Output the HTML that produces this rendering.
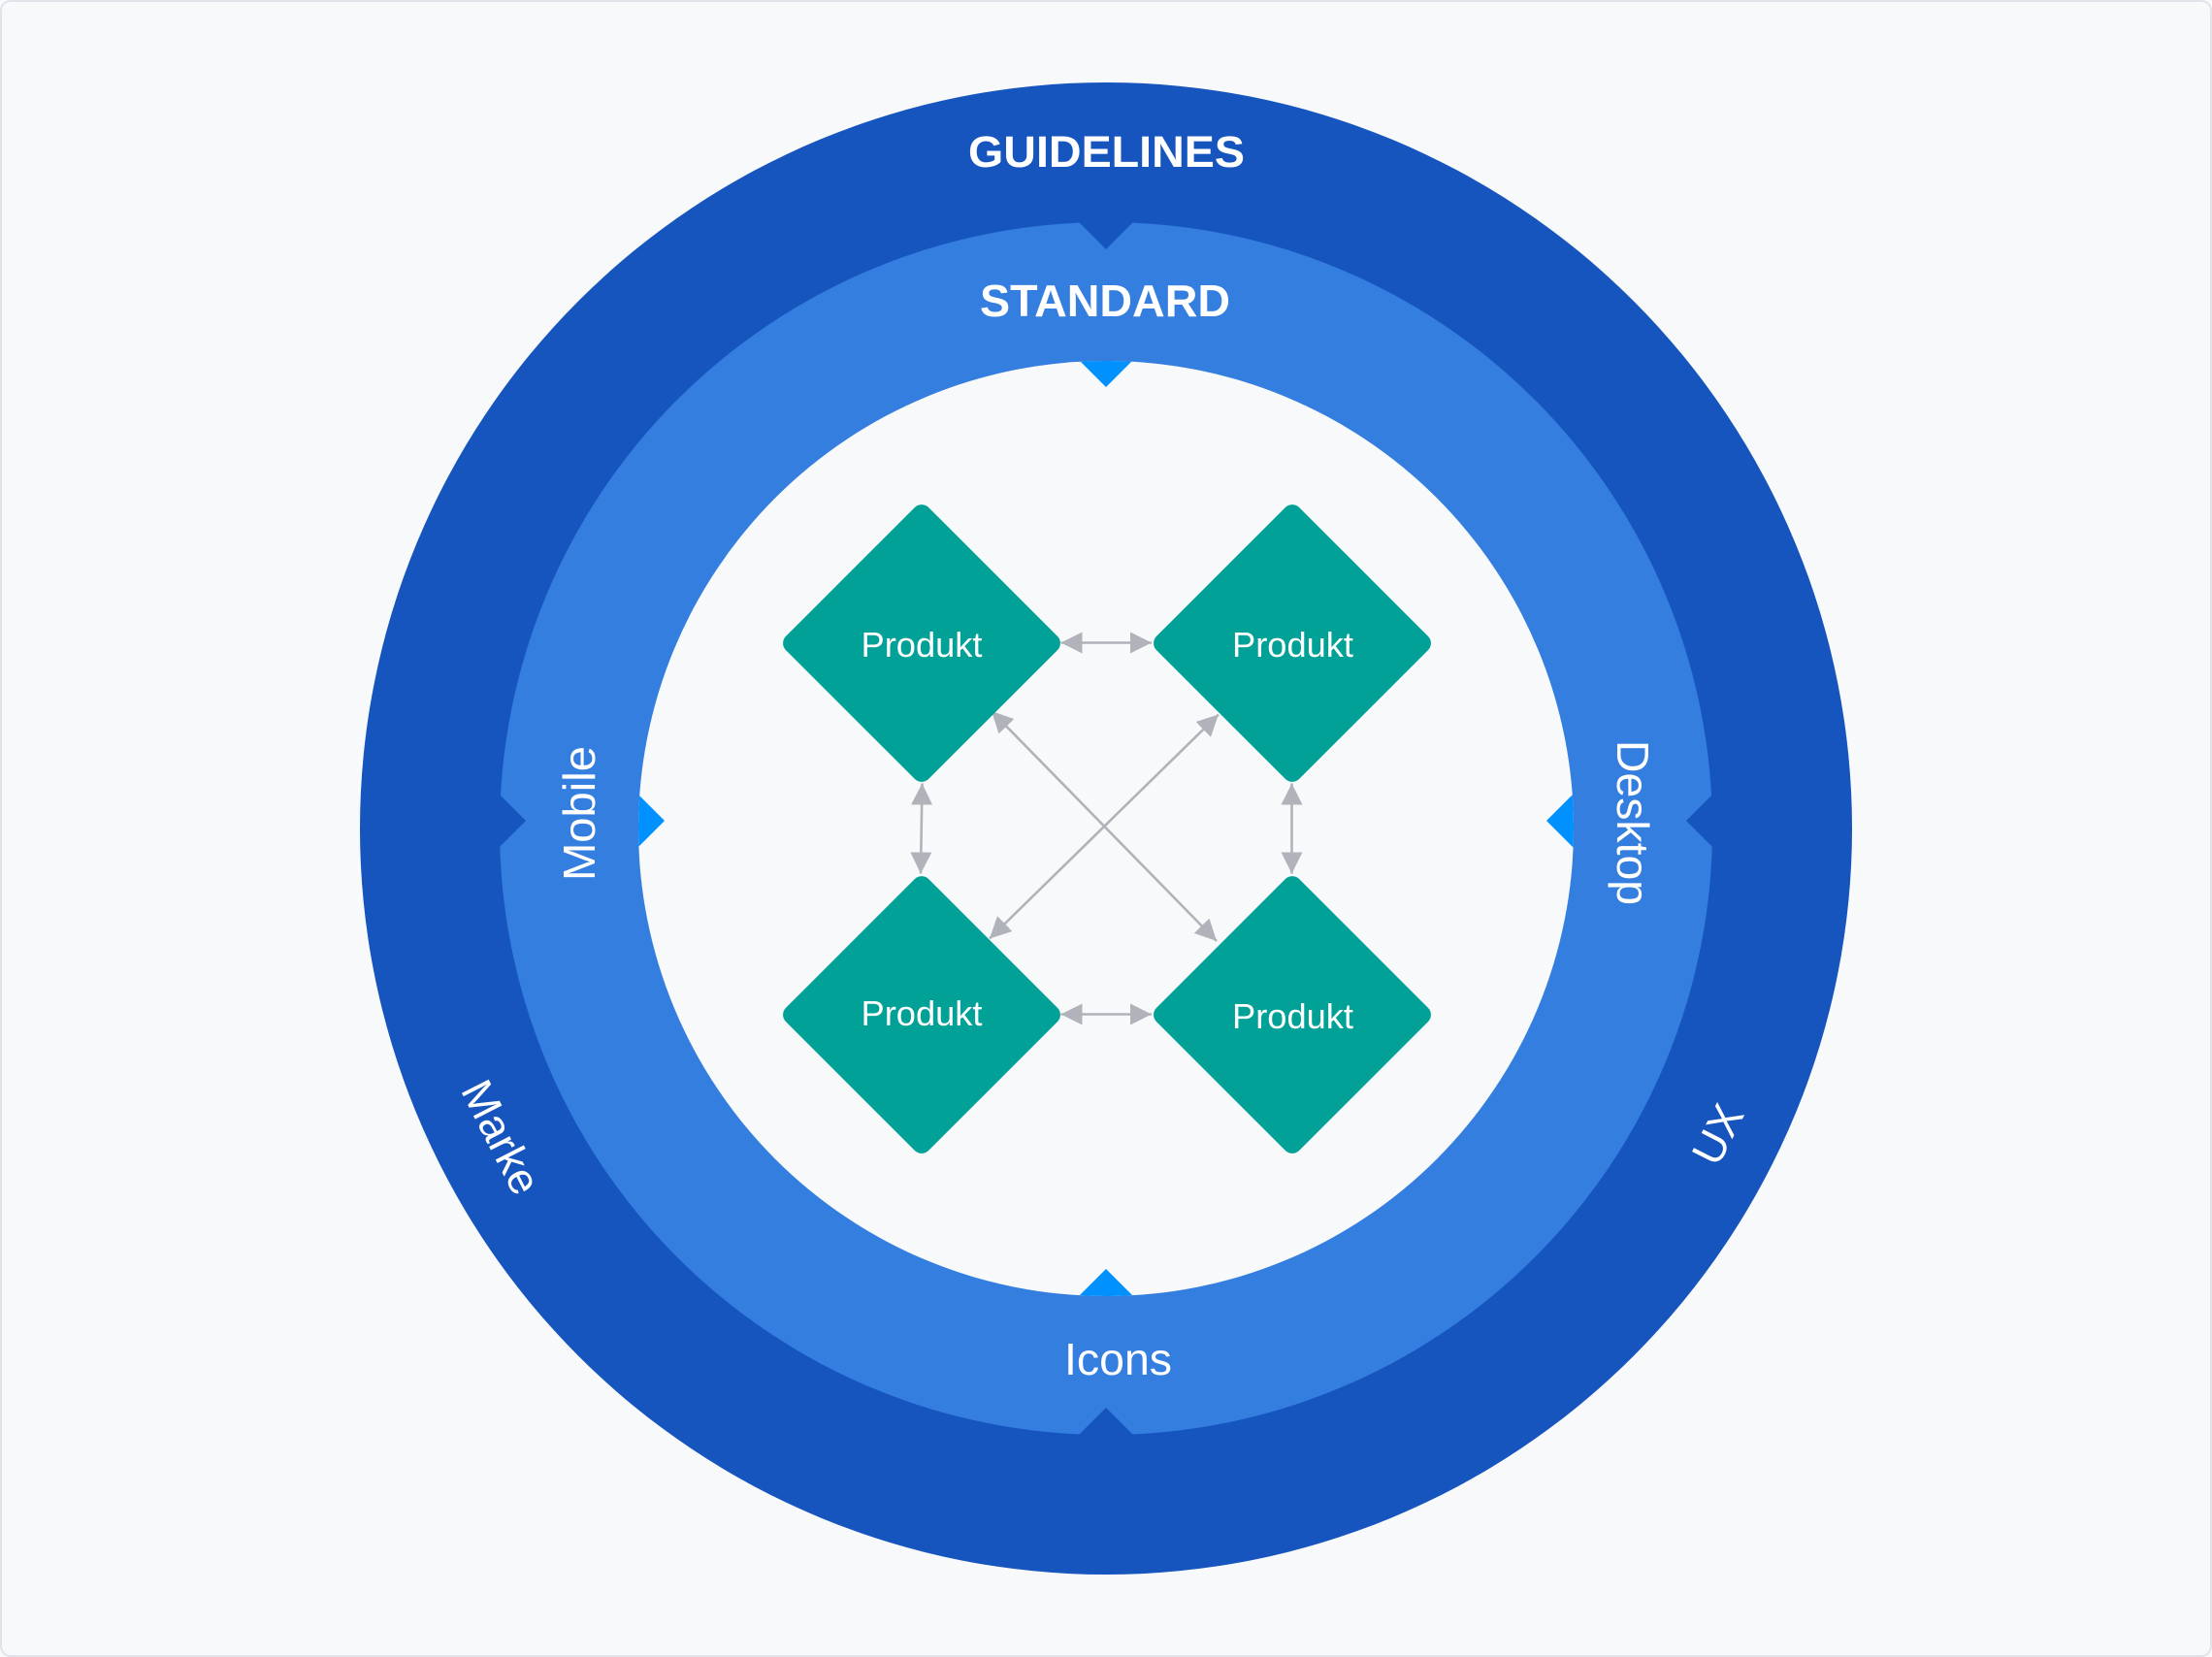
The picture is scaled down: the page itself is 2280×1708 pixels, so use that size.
<!DOCTYPE html>
<html>
<head>
<meta charset="utf-8">
<style>
  html, body { margin: 0; padding: 0; background: #F7F9FB; }
  body { width: 2280px; height: 1708px; overflow: hidden; }
  svg { display: block; }
  text { font-family: "Liberation Sans", "DejaVu Sans", sans-serif; fill: #FFFFFF; }
</style>
</head>
<body>
<svg width="2280" height="1708" viewBox="0 0 2280 1708" xmlns="http://www.w3.org/2000/svg">
  <defs>
    <clipPath id="innerClip">
      <circle cx="1140" cy="854" r="482"/>
    </clipPath>
    <marker id="ah" viewBox="0 0 22 22" refX="22" refY="11" markerWidth="22" markerHeight="22" markerUnits="userSpaceOnUse" orient="auto-start-reverse">
      <path d="M0,0 L22,11 L0,22 z" fill="#B0B3B9"/>
    </marker>
  </defs>

  <!-- frame -->
  <rect x="1" y="1" width="2278" height="1706" rx="10" ry="10" fill="#F7F9FB" stroke="#E0E4EA" stroke-width="2"/>

  <!-- outer ring -->
  <circle cx="1140" cy="854" r="769" fill="#1755BE"/>
  <!-- middle ring -->
  <circle cx="1140" cy="854" r="625" fill="#347EE0"/>

  <!-- dark notches into middle ring -->
  <polygon points="1108,225 1172,225 1140,257" fill="#1755BE"/>
  <polygon points="1108,1483 1172,1483 1140,1451" fill="#1755BE"/>
  <polygon points="510,814 510,878 542,846" fill="#1755BE"/>
  <polygon points="1770,814 1770,878 1738,846" fill="#1755BE"/>

  <!-- inner circle -->
  <circle cx="1140" cy="854" r="482" fill="#F7F9FB"/>

  <!-- bright triangles into inner circle -->
  <g clip-path="url(#innerClip)" fill="#0091FE">
    <polygon points="1100,359 1180,359 1140,399"/>
    <polygon points="1100,1348 1180,1348 1140,1308"/>
    <polygon points="645,806 645,886 685,846"/>
    <polygon points="1634,806 1634,886 1594,846"/>
  </g>

  <!-- connectors -->
  <g stroke="#B0B3B9" stroke-width="2.6" fill="none">
    <line x1="1093.5" y1="662.5" x2="1187" y2="662.5" marker-start="url(#ah)" marker-end="url(#ah)"/>
    <line x1="1093.5" y1="1045.5" x2="1187" y2="1045.5" marker-start="url(#ah)" marker-end="url(#ah)"/>
    <line x1="950.5" y1="807.5" x2="949" y2="900.5" marker-start="url(#ah)" marker-end="url(#ah)"/>
    <line x1="1331.5" y1="807.5" x2="1331.5" y2="900.5" marker-start="url(#ah)" marker-end="url(#ah)"/>
    <line x1="1022" y1="733" x2="1254" y2="970" marker-start="url(#ah)" marker-end="url(#ah)"/>
    <line x1="1256" y1="736.5" x2="1020" y2="967.5" marker-start="url(#ah)" marker-end="url(#ah)"/>
  </g>

  <!-- diamonds -->
  <g fill="#01A198">
    <rect x="-104" y="-104" width="208" height="208" rx="10" ry="10" transform="translate(950,663) rotate(45)"/>
    <rect x="-104" y="-104" width="208" height="208" rx="10" ry="10" transform="translate(1332,663) rotate(45)"/>
    <rect x="-104" y="-104" width="208" height="208" rx="10" ry="10" transform="translate(950,1046) rotate(45)"/>
    <rect x="-104" y="-104" width="208" height="208" rx="10" ry="10" transform="translate(1332,1046) rotate(45)"/>
  </g>

  <!-- diamond labels -->
  <g font-size="36" text-anchor="middle">
    <text x="950" y="677" textLength="125" lengthAdjust="spacingAndGlyphs">Produkt</text>
    <text x="1332.5" y="677" textLength="125" lengthAdjust="spacingAndGlyphs">Produkt</text>
    <text x="950" y="1057" textLength="125" lengthAdjust="spacingAndGlyphs">Produkt</text>
    <text x="1332.5" y="1060" textLength="125" lengthAdjust="spacingAndGlyphs">Produkt</text>
  </g>

  <!-- ring titles -->
  <text x="998" y="172" font-size="45" font-weight="bold" textLength="285" lengthAdjust="spacingAndGlyphs">GUIDELINES</text>
  <text x="1010" y="326" font-size="46" font-weight="bold" textLength="258" lengthAdjust="spacingAndGlyphs">STANDARD</text>

  <!-- side labels -->
  <text transform="translate(613,838.5) rotate(-90)" x="0" y="0" font-size="46" text-anchor="middle" textLength="139" lengthAdjust="spacingAndGlyphs">Mobile</text>
  <text transform="translate(1667,848) rotate(90)" x="0" y="0" font-size="46" text-anchor="middle" textLength="170" lengthAdjust="spacingAndGlyphs">Desktop</text>
  <text x="1097" y="1417" font-size="46" textLength="111" lengthAdjust="spacingAndGlyphs">Icons</text>
  <text transform="translate(517,1172) rotate(63)" x="0" y="16" font-size="45" text-anchor="middle">Marke</text>
  <text transform="translate(1770,1169) rotate(-63)" x="0" y="16" font-size="45" text-anchor="middle">UX</text>
</svg>
</body>
</html>
